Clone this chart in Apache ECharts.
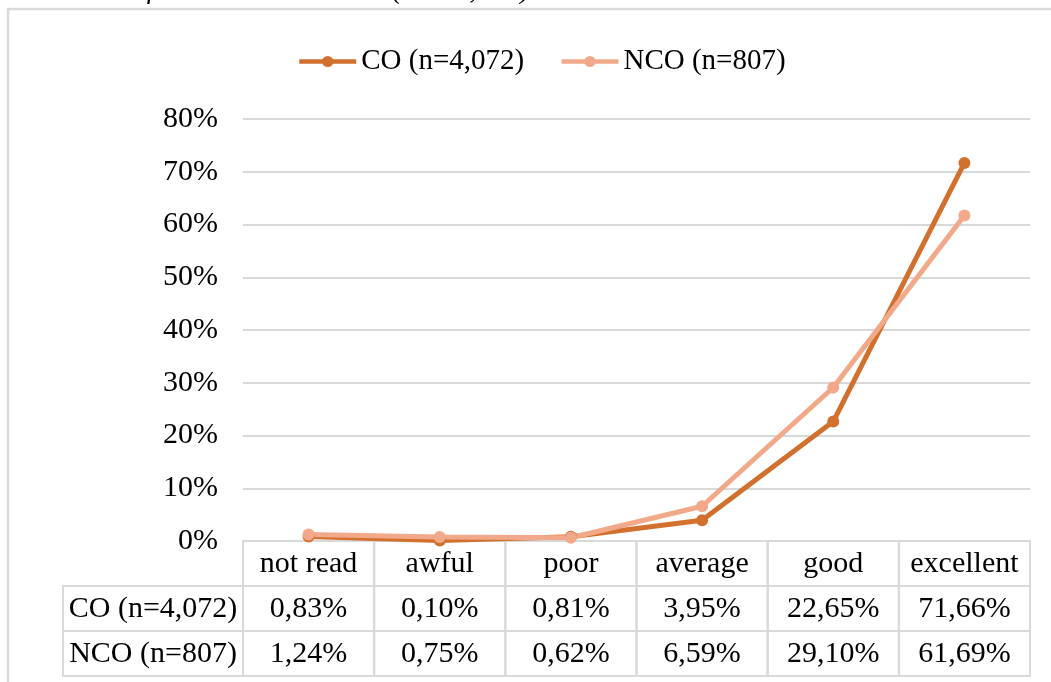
<!DOCTYPE html>
<html><head><meta charset="utf-8">
<script src="https://cdn.jsdelivr.net/npm/echarts@6/dist/echarts.min.js"></script>
<style>html,body{margin:0;padding:0;background:#fff;overflow:hidden}#c{width:1051px;height:682px}</style>
</head><body><div id="c"></div>
<script>
const categories = ['not read', 'awful', 'poor', 'average', 'good', 'excellent'];
const seriesNames = ['CO (n=4,072)', 'NCO (n=807)'];
const coValues = [0.83, 0.10, 0.81, 3.95, 22.65, 71.66];
const ncoValues = [1.24, 0.75, 0.62, 6.59, 29.10, 61.69];
const yTicks = [0, 10, 20, 30, 40, 50, 60, 70, 80];
const titleText = 'characteristics of the read audio test. (N = 4,879)';

const FONT = '"Liberation Serif", "Times New Roman", serif';
const CO_COLOR = '#D2712E';
const NCO_COLOR = '#F2A98A';
const GRID_COLOR = '#d9d9d9';
const FS = 30;

function fmt(v) { return v.toFixed(2).replace('.', ',') + '%'; }

const tableData = [];
const tableTexts = [];
const tableIsLabel = [];
categories.forEach((c, i) => { tableData.push([i, 0]); tableTexts.push(c); tableIsLabel.push(false); });
[coValues, ncoValues].forEach((arr, r) => {
  tableData.push([0, r + 1]); tableTexts.push(seriesNames[r]); tableIsLabel.push(true);
  arr.forEach((v, i) => { tableData.push([i, r + 1]); tableTexts.push(fmt(v)); tableIsLabel.push(false); });
});

const chart = echarts.init(document.getElementById('c'));
chart.setOption({
  animation: false,
  backgroundColor: '#fff',
  graphic: [
    { type: 'rect', z: -10, shape: { x: 8, y: 9, width: 1200, height: 900 },
      style: { fill: 'none', stroke: GRID_COLOR, lineWidth: 2.5 } },
    { type: 'text', style: { x: 530, y: -24, text: titleText, align: 'right', verticalAlign: 'top',
      font: 'italic 29px ' + FONT, fill: '#000' } }
  ],
  legend: {
    left: 292, top: 42, itemWidth: 57, itemHeight: 14, itemGap: 35,
    textStyle: { fontFamily: FONT, fontSize: 29, color: '#000' },
    lineStyle: { width: 4.5 },
    itemStyle: { borderWidth: 0 },
    data: seriesNames
  },
  grid: [
    { left: 243, right: 21, top: 119, bottom: 141 },
    { left: 243, right: 21, top: 541, bottom: 6 }
  ],
  xAxis: [
    { type: 'category', gridIndex: 0, data: categories, boundaryGap: true,
      axisLine: { lineStyle: { color: GRID_COLOR, width: 2 } },
      axisTick: { show: false }, axisLabel: { show: false } },
    { type: 'category', gridIndex: 1, data: categories, boundaryGap: true, show: false }
  ],
  yAxis: [
    { type: 'value', gridIndex: 0, min: yTicks[0], max: yTicks[yTicks.length - 1],
      interval: yTicks[1] - yTicks[0],
      axisLine: { show: false }, axisTick: { show: false },
      axisLabel: { formatter: '{value}%', margin: 25, fontFamily: FONT, fontSize: FS, color: '#000' },
      splitLine: { lineStyle: { color: GRID_COLOR, width: 2 } } },
    { type: 'category', gridIndex: 1, data: ['h', 'co', 'nco'], inverse: true, show: false }
  ],
  series: [
    { name: seriesNames[0], type: 'line', data: coValues, xAxisIndex: 0, yAxisIndex: 0,
      color: CO_COLOR, symbol: 'circle', symbolSize: 12, lineStyle: { width: 5, color: CO_COLOR },
      itemStyle: { color: CO_COLOR } },
    { name: seriesNames[1], type: 'line', data: ncoValues, xAxisIndex: 0, yAxisIndex: 0,
      color: NCO_COLOR, symbol: 'circle', symbolSize: 12, lineStyle: { width: 5, color: NCO_COLOR },
      itemStyle: { color: NCO_COLOR } },
    { type: 'custom', xAxisIndex: 1, yAxisIndex: 1, data: tableData, silent: true,
      renderItem: function (params, api) {
        const c = api.value(0), r = api.value(1);
        const size = api.size([1, 1]);
        const w = size[0], h = size[1];
        const p = api.coord([c, r]);
        let x = p[0] - w / 2, y = p[1] - h / 2, cw = w;
        if (tableIsLabel[params.dataIndex]) { cw = 180; x = x - 180; }
        return { type: 'group', children: [
          { type: 'rect', shape: { x: x, y: y, width: cw, height: h },
            style: { fill: 'none', stroke: GRID_COLOR, lineWidth: 2 } },
          { type: 'text', style: { x: x + cw / 2, y: y + h / 2 + 1, text: tableTexts[params.dataIndex],
            align: 'center', verticalAlign: 'middle', font: FS + 'px ' + FONT, fill: '#000' } }
        ] };
      } }
  ]
});
</script>
</body></html>
